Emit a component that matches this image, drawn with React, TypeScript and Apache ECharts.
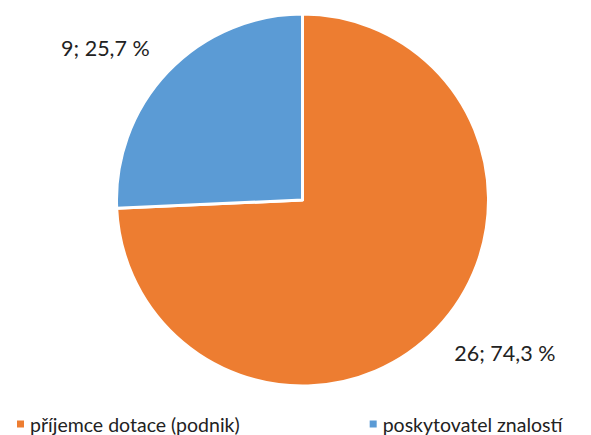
import React, { useEffect, useRef } from "react";
import * as echarts from "echarts";

const categories = ["příjemce dotace (podnik)", "poskytovatel znalostí"];
const counts = [26, 9];
const percents = ["74,3", "25,7"];
const colors = ["#ED7D31", "#5B9BD5"];

export default function App() {
  const ref = useRef<HTMLDivElement>(null);
  useEffect(() => {
    const chart = echarts.init(ref.current!, null, { renderer: "svg" });
    const font = "Lato, 'Liberation Sans Narrow', sans-serif";
    chart.setOption({
      animation: false,
      color: colors,
      textStyle: { fontFamily: font },
      legend: {
        data: categories,
        left: 10,
        bottom: -4,
        itemWidth: 9,
        itemHeight: 9,
        icon: "rect",
        itemGap: 128,
        textStyle: { fontSize: 19.5, color: "#222", fontFamily: font },
      },
      series: [
        {
          type: "pie",
          center: [302.5, 200],
          radius: [0, 186],
          startAngle: 90,
          clockwise: true,
          itemStyle: { borderColor: "#fff", borderWidth: 3 },
          label: {
            show: true,
            position: "outside",
            fontSize: 21.5,
            color: "#222",
            fontFamily: font,
            distanceToLabelLine: 2,
            formatter: (p: any) => `${counts[p.dataIndex]}; ${percents[p.dataIndex]} %`,
          },
          labelLine: { show: false, length: 24, length2: 0 },
          labelLayout: (p: any) => ({ dy: p.dataIndex === 0 ? 8 : -7, dx: p.dataIndex === 0 ? -2 : 1 }),
          data: categories.map((c, i) => ({ name: c, value: counts[i] })),
        },
      ],
    });
    return () => chart.dispose();
  }, []);
  return <div ref={ref} style={{ width: 591, height: 435, position: "absolute", left: 0, top: 0 }} />;
}
